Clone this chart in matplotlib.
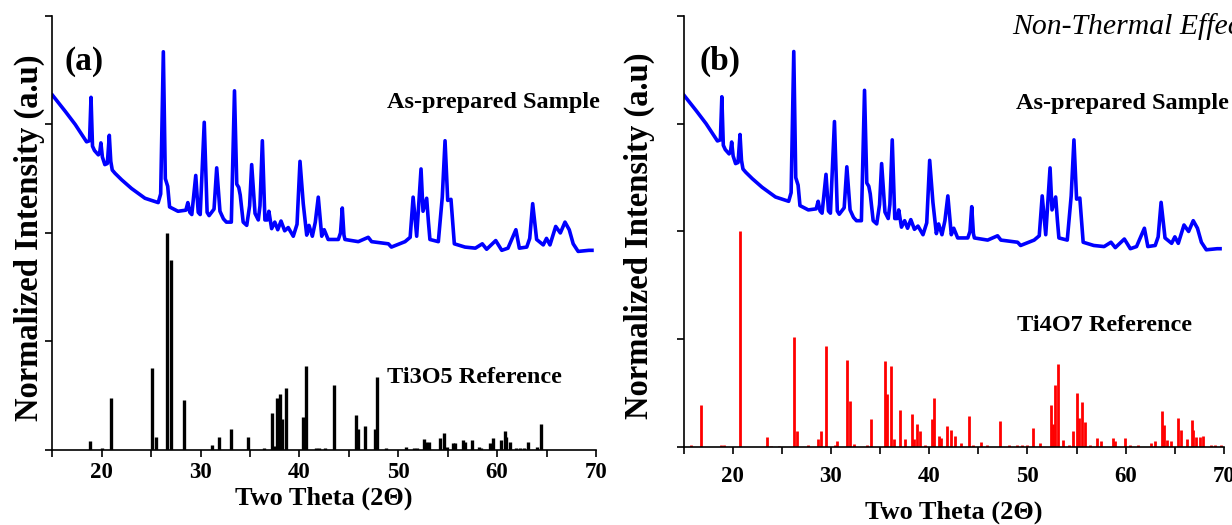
import matplotlib
matplotlib.use('Agg')
import matplotlib.pyplot as plt
from matplotlib.ticker import MultipleLocator, NullFormatter

# As-prepared sample XRD pattern (offset so it sits above the references)
two_theta = [15.0, 16.3, 17.3, 18.45, 18.75, 18.9, 19.05, 19.25, 19.64, 19.78,
             19.9, 20.05, 20.3, 20.55, 20.75, 20.9, 21.05, 21.33, 22.0, 23.0,
             24.36, 25.7, 25.95, 26.22, 26.42, 26.66, 26.85, 27.7, 28.5, 28.7,
             28.9, 29.1, 29.5, 29.75, 29.95, 30.36, 30.65, 30.85, 31.35, 31.62,
             31.95, 32.3, 32.6, 33.1, 33.42, 33.65, 33.85, 34.0, 34.3, 34.66,
             34.95, 35.16, 35.5, 35.83, 36.0, 36.24, 36.5, 36.75, 36.9, 37.18,
             37.5, 37.8, 38.13, 38.5, 38.86, 39.37, 39.75, 40.05, 40.38, 40.73,
             40.96, 41.3, 41.6, 41.9, 42.25, 42.5, 42.9, 43.93, 44.15, 44.33,
             44.5, 44.6, 45.95, 46.96, 47.3, 49.0, 49.3, 50.68, 51.2, 51.5,
             51.86, 52.3, 52.5, 52.87, 53.05, 53.2, 54.05, 54.45, 54.73, 55.0,
             55.33, 55.67, 56.75, 57.8, 58.5, 58.94, 59.86, 60.47, 61.1, 61.9,
             62.25, 63.0, 63.3, 63.6, 64.0, 64.67, 65.0, 65.35, 65.93, 66.4,
             66.87, 67.3, 67.7, 68.2, 69.3, 69.6]
sample_int = [3.27, 3.12, 3.00, 2.84, 2.85, 3.25, 2.80, 2.76, 2.72, 2.74,
              2.83, 2.70, 2.63, 2.64, 2.90, 2.66, 2.58, 2.55, 2.49, 2.41,
              2.32, 2.28, 2.36, 3.67, 2.50, 2.43, 2.24, 2.20, 2.21, 2.28,
              2.19, 2.17, 2.53, 2.19, 2.17, 3.02, 2.19, 2.16, 2.22, 2.60,
              2.20, 2.13, 2.10, 2.10, 3.31, 2.45, 2.42, 2.35, 2.10, 2.07,
              2.25, 2.63, 2.18, 2.12, 2.25, 2.85, 2.12, 2.12, 2.20, 2.04,
              2.10, 2.03, 2.11, 2.02, 2.05, 1.97, 2.08, 2.66, 2.27, 1.98,
              2.07, 1.97, 2.10, 2.33, 1.97, 2.03, 1.94, 1.94, 2.00, 2.23,
              1.98, 1.94, 1.92, 1.96, 1.92, 1.90, 1.87, 1.92, 1.96, 2.33,
              1.97, 2.59, 2.20, 2.32, 2.10, 1.94, 1.92, 2.33, 2.85, 2.30,
              2.31, 1.90, 1.87, 1.86, 1.90, 1.85, 1.93, 1.84, 1.86, 2.03,
              1.86, 1.87, 1.95, 2.27, 1.94, 1.89, 1.95, 1.89, 2.06, 2.00,
              2.10, 2.03, 1.90, 1.83, 1.84, 1.84]

# Ti3O5 reference lines
ti3o5_pos = [18.76, 20.04, 20.92, 25.12, 25.49, 26.62, 26.95, 28.34, 31.19, 31.85,
             33.02, 34.74, 36.38, 37.22, 37.48, 37.77, 38.03, 38.21, 38.68, 40.4,
             40.69, 41.68, 41.97, 42.6, 43.5, 45.74, 45.88, 46.6, 47.64, 47.82,
             48.8, 50.8, 51.55, 51.9, 52.65, 52.83, 53.1, 54.18, 54.58, 54.95,
             55.57, 55.75, 56.56, 56.74, 57.47, 58.13, 58.4, 59.33, 59.6, 60.43,
             60.8, 60.94, 61.31, 61.9, 62.35, 62.7, 63.13, 64.08, 64.45]
ti3o5_int = [0.086, 0.015, 0.483, 0.76, 0.117, 2.0, 1.75, 0.46, 0.046, 0.117,
             0.197, 0.117, 0.015, 0.34, 0.037, 0.477, 0.514, 0.283, 0.575, 0.30,
             0.778, 0.02, 0.02, 0.015, 0.60, 0.326, 0.19, 0.22, 0.19, 0.668,
             0.015, 0.025, 0.02, 0.015, 0.10, 0.077, 0.077, 0.108, 0.16, 0.03,
             0.068, 0.06, 0.092, 0.077, 0.092, 0.03, 0.015, 0.06, 0.114, 0.092,
             0.178, 0.123, 0.077, 0.015, 0.015, 0.015, 0.077, 0.025, 0.24]

# Ti4O7 reference lines
ti4o7_pos = [15.8, 16.83, 18.84, 19.1, 20.75, 23.5, 23.9, 24.7, 26.28, 26.53,
             27.63, 28.73, 28.99, 29.46, 30.4, 30.63, 31.66, 31.92, 32.39, 33.7,
             34.04, 35.5, 35.69, 36.16, 36.42, 37.08, 37.52, 38.25, 38.5, 38.8,
             39.06, 39.53, 40.27, 40.52, 41.0, 41.2, 41.84, 42.2, 42.65, 43.2,
             44.04, 44.5, 45.28, 45.9, 47.22, 48.15, 48.9, 49.45, 49.97, 50.52,
             51.25, 52.35, 52.6, 52.82, 53.15, 53.63, 54.2, 54.62, 55.02, 55.2,
             55.57, 55.83, 56.38, 57.04, 57.48, 58.68, 58.95, 59.93, 60.4, 61.3,
             62.6, 62.97, 63.7, 63.88, 64.25, 64.6, 65.35, 65.64, 66.26, 66.7,
             66.89, 67.18, 67.55, 67.91, 68.64, 69.1, 69.74]
ti4o7_int = [0.015, 0.386, 0.015, 0.015, 2.0, 0.093, 0.01, 0.01, 1.02, 0.145,
             0.015, 0.07, 0.145, 0.935, 0.015, 0.06, 0.81, 0.43, 0.025, 0.015,
             0.256, 0.80, 0.49, 0.747, 0.077, 0.346, 0.077, 0.31, 0.07, 0.21,
             0.145, 0.015, 0.256, 0.45, 0.10, 0.08, 0.194, 0.154, 0.10, 0.037,
             0.284, 0.02, 0.046, 0.015, 0.238, 0.02, 0.015, 0.015, 0.02, 0.179,
             0.04, 0.386, 0.216, 0.571, 0.77, 0.068, 0.015, 0.148, 0.50, 0.268,
             0.417, 0.23, 0.02, 0.086, 0.06, 0.086, 0.06, 0.086, 0.015, 0.015,
             0.037, 0.056, 0.333, 0.20, 0.068, 0.056, 0.27, 0.154, 0.077, 0.253,
             0.154, 0.093, 0.093, 0.10, 0.015, 0.015, 0.015]

plt.rcParams['font.family'] = ['Liberation Serif', 'DejaVu Serif']

fig = plt.figure(figsize=(12.32, 5.25), dpi=100)
ax_a = fig.add_axes([0.0426, 0.1429, 0.4411, 0.8267])
ax_b = fig.add_axes([0.5548, 0.1486, 0.4387, 0.8210])


def style_axes(ax, tick_pad):
    ax.set_xlim(15, 70)
    ax.set_ylim(0, 4)
    ax.spines['top'].set_visible(False)
    ax.spines['right'].set_visible(False)
    for s in ['left', 'bottom']:
        ax.spines[s].set_linewidth(1.2)
    ax.xaxis.set_major_locator(MultipleLocator(10))
    ax.xaxis.set_minor_locator(MultipleLocator(5))
    ax.yaxis.set_major_locator(MultipleLocator(1))
    ax.yaxis.set_major_formatter(NullFormatter())
    ax.tick_params(axis='x', which='both', direction='out', length=5,
                   width=1.2, pad=tick_pad, labelsize=16.5)
    ax.tick_params(axis='y', which='major', direction='out', length=5,
                   width=1.2)
    for lbl in ax.get_xticklabels():
        lbl.set_fontweight('bold')


#
# (a) sample vs Ti3O5
#
ax_a.vlines(ti3o5_pos, 0, ti3o5_int, color='black', lw=2.4)
ax_a.plot(two_theta, sample_int, color='#0000ff', lw=2.6)
style_axes(ax_a, 4)
ax_a.set_xlabel('Two Theta (2Θ)', fontsize=19, fontweight='bold')
ax_a.set_ylabel('Normalized Intensity (a.u)', fontsize=23.5, fontweight='bold')
ax_a.xaxis.set_label_coords(0.50, -0.085)
ax_a.yaxis.set_label_coords(-0.013, 0.49)
ax_a.text(0.023, 0.894, '(a)', transform=ax_a.transAxes, fontsize=24,
          fontweight='bold', va='center', ha='left')
ax_a.text(1.007, 0.80, 'As-prepared Sample', transform=ax_a.transAxes,
          fontsize=17.5, fontweight='bold', va='center', ha='right')
ax_a.text(0.616, 0.168, 'Ti3O5 Reference', transform=ax_a.transAxes,
          fontsize=17.5, fontweight='bold', va='center', ha='left')

#
# (b) sample vs Ti4O7
#
ax_b.vlines(ti4o7_pos, 0, ti4o7_int, color='#ff0000', lw=2.0)
ax_b.plot(two_theta, sample_int, color='#0000ff', lw=2.6)
style_axes(ax_b, 9)
ax_b.set_xlabel('Two Theta (2Θ)', fontsize=19, fontweight='bold')
ax_b.set_ylabel('Normalized Intensity (a.u)', fontsize=23.5, fontweight='bold')
ax_b.xaxis.set_label_coords(0.50, -0.125)
ax_b.yaxis.set_label_coords(-0.052, 0.49)
ax_b.text(0.029, 0.894, '(b)', transform=ax_b.transAxes, fontsize=24,
          fontweight='bold', va='center', ha='left')
ax_b.text(1.009, 0.798, 'As-prepared Sample', transform=ax_b.transAxes,
          fontsize=17.5, fontweight='bold', va='center', ha='right')
ax_b.text(0.617, 0.281, 'Ti4O7 Reference', transform=ax_b.transAxes,
          fontsize=17.5, fontweight='bold', va='center', ha='left')

# caption fragment cut off at the top right of the original figure
fig.text(1012 / 1232, 0.950, 'Non-Thermal Effects', fontsize=21.4,
         style='italic', va='center', ha='left')

fig.savefig('out.png', dpi=100)
